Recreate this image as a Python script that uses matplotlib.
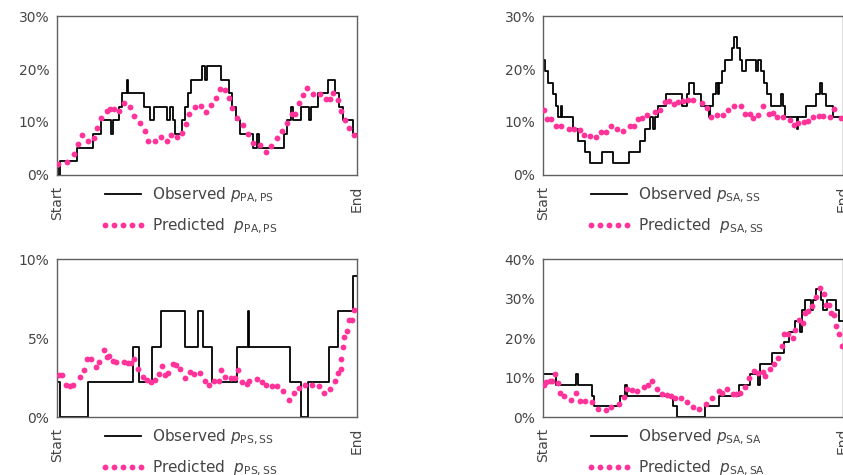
import numpy as np
import matplotlib
matplotlib.use("Agg")
import matplotlib.pyplot as plt
from matplotlib.lines import Line2D
from matplotlib.ticker import FixedLocator, FuncFormatter

plt.rcParams["font.family"] = ["DejaVu Sans"]
plt.rcParams["mathtext.fontset"] = "dejavusans"

# x is position along the period in percent (0 = Start, 100 = End), y in %

# PA -> PS
pa_ps_obs_x = [0, 0.4, 0.9, 6.7, 11.9, 14.6, 18.0, 18.8, 20.7, 21.8, 23.3, 23.8, 29.0, 31.0,
               32.2, 36.8, 37.7, 38.5, 39.2, 41.8, 42.6, 43.5, 44.6, 48.4, 49.2, 50.1, 54.8,
               57.3, 58.4, 59.5, 61.0, 65.4, 66.5, 67.3, 75.6, 76.5, 78.0, 78.7, 81.2, 83.9,
               84.7, 86.9, 90.2, 92.6, 93.9, 95.3, 98.7, 100]
pa_ps_obs_y = [1.3, 0.0, 2.6, 5.1, 7.7, 10.3, 7.7, 10.3, 12.8, 15.4, 17.9, 15.4, 12.8, 10.3,
               12.8, 10.3, 12.8, 10.3, 7.7, 10.3, 12.8, 15.4, 17.9, 20.5, 17.9, 20.5, 17.9,
               15.4, 12.8, 10.3, 7.7, 5.1, 7.7, 5.1, 7.7, 10.3, 12.8, 10.3, 12.8, 10.3,
               12.8, 15.4, 17.9, 15.4, 12.8, 10.3, 7.7, 7.7]
pa_ps_pred_x = [0.4, 3.5, 5.8, 7.1, 8.2, 10.4, 12.2, 13.3, 14.6, 16.6, 17.7, 19.1, 20.7, 22.2,
                24.4, 25.5, 27.7, 29.3, 30.4, 32.6, 34.8, 36.5, 37.9, 39.9, 41.8, 42.9, 44.0,
                45.9, 48.1, 49.8, 51.4, 52.9, 54.3, 55.9, 57.3, 58.4, 59.9, 62.1, 63.6, 65.4,
                67.6, 69.5, 71.2, 73.2, 75.1, 76.5, 78.2, 79.2, 80.8, 82.0, 83.4, 85.4, 87.6,
                89.5, 91.1, 92.0, 93.6, 94.5, 96.0, 97.2, 98.9]
pa_ps_pred_y = [2.1, 2.5, 4.0, 5.8, 7.5, 6.5, 7.0, 8.9, 10.7, 12.1, 12.4, 12.5, 12.1, 13.6,
                12.9, 11.1, 9.9, 8.3, 6.5, 6.4, 7.1, 6.4, 7.5, 7.2, 8.0, 9.7, 11.6,
                12.8, 13.1, 11.8, 13.3, 14.5, 16.2, 16.0, 14.5, 12.6, 10.7, 9.4, 7.7, 6.0,
                5.7, 4.4, 5.5, 7.0, 8.3, 9.9, 11.5, 11.6, 13.5, 15.1, 16.4, 15.2, 15.2,
                14.3, 14.3, 15.4, 14.2, 12.1, 10.4, 8.8, 7.5]

# SA -> SS
sa_ss_obs_x = [0, 0.6, 1.7, 3.3, 4.2, 5.0, 6.1, 6.5, 10.0, 11.7, 14.1, 15.6, 19.8, 23.2, 28.7,
               32.3, 34.0, 35.6, 36.7, 37.2, 38.4, 41.0, 46.2, 47.9, 48.6, 50.3, 52.6, 55.2,
               55.8, 56.6, 57.5, 58.3, 58.8, 59.5, 60.5, 62.9, 63.8, 64.8, 65.6, 66.3, 67.8,
               71.1, 71.6, 72.6, 73.5, 74.5, 76.0, 79.3, 79.9, 80.6, 84.5, 85.1, 87.8, 91.0,
               92.3, 93.1, 94.2, 96.5, 100]
sa_ss_obs_y = [21.7, 19.6, 17.4, 15.2, 13.0, 10.9, 13.0, 10.9, 8.7, 6.5, 4.3, 2.2, 4.3, 2.2, 4.3,
               6.5, 8.7, 10.9, 8.7, 10.9, 13.0, 15.2, 13.0, 15.2, 17.4, 15.2, 13.0, 10.9,
               13.0, 15.2, 17.4, 15.2, 17.4, 19.6, 21.7, 23.9, 26.1, 23.9, 21.7, 19.6, 21.7,
               19.6, 21.7, 19.6, 17.4, 15.2, 13.0, 15.2, 13.0, 10.9, 8.7, 10.9, 13.0, 15.2,
               17.4, 15.2, 13.0, 10.9, 10.9]
sa_ss_pred_x = [0.2, 1.4, 2.6, 4.2, 6.1, 8.7, 10.2, 12.5, 13.7, 15.6, 17.8, 19.5, 20.9, 22.8,
                24.5, 26.7, 29.0, 30.3, 31.7, 32.9, 34.7, 37.3, 39.0, 40.6, 42.1, 43.7, 45.1,
                46.8, 48.4, 50.1, 52.9, 54.6, 55.9, 58.1, 59.9, 61.8, 63.7, 65.9, 67.4, 69.0,
                69.9, 71.5, 73.3, 75.2, 76.5, 78.0, 80.0, 82.2, 83.7, 84.9, 86.9, 88.2, 90.0,
                91.9, 93.3, 95.5, 97.1, 99.3]
sa_ss_pred_y = [12.3, 10.6, 10.6, 9.2, 9.2, 8.7, 8.7, 8.4, 7.6, 7.3, 7.1, 8.1, 8.1, 9.2,
                8.7, 8.3, 9.3, 9.3, 10.6, 10.8, 11.3, 11.9, 12.3, 13.8, 13.9, 13.4, 13.8,
                13.9, 14.1, 14.2, 13.5, 12.7, 10.9, 11.4, 11.4, 12.2, 13.0, 13.0, 11.6, 11.6,
                10.8, 11.4, 13.0, 11.6, 11.7, 10.9, 10.9, 10.3, 9.5, 9.8, 10.0, 10.2, 10.9,
                11.1, 11.1, 10.9, 12.4, 10.8]

# PS -> SS
ps_ss_obs_x = [0, 1.1, 10.4, 25.3, 27.4, 31.7, 34.8, 42.5, 46.9, 48.7, 51.7, 60.0, 63.7, 64.1,
               77.5, 81.2, 83.6, 90.5, 93.5, 98.6, 100]
ps_ss_obs_y = [2.2, 0.0, 2.2, 4.4, 2.2, 4.4, 6.7, 4.4, 6.7, 4.4, 2.2, 4.4, 6.7, 4.4,
               2.2, 0.0, 2.2, 4.4, 6.7, 8.9, 8.9]
ps_ss_pred_x = [0.6, 1.7, 3.0, 4.4, 5.5, 7.6, 9.1, 9.9, 11.5, 13.0, 14.1, 15.5, 16.6, 17.4,
                18.8, 19.6, 22.2, 23.5, 24.6, 25.7, 27.1, 28.5, 30.0, 31.3, 32.6, 34.0, 35.1,
                35.9, 37.1, 38.5, 39.6, 41.0, 42.6, 44.3, 45.7, 47.7, 49.2, 50.7, 52.3, 54.0,
                54.5, 55.9, 57.9, 59.2, 60.3, 61.8, 63.4, 64.0, 66.5, 68.4, 69.8, 71.7, 73.2,
                75.4, 77.3, 78.9, 80.6, 82.8, 85.0, 87.3, 89.1, 90.9, 92.8, 93.7, 94.5, 94.7,
                95.2, 95.8, 96.7, 97.2, 98.3, 99.1]
ps_ss_pred_y = [2.67, 2.63, 2.05, 1.94, 2.03, 2.52, 2.99, 3.65, 3.70, 3.16, 3.48, 4.23, 3.80, 3.87,
                3.55, 3.48, 3.48, 3.44, 3.44, 3.68, 3.06, 2.52, 2.35, 2.20, 2.35, 2.74, 3.21,
                2.63, 2.78, 3.38, 3.27, 3.01, 2.48, 2.88, 2.74, 2.78, 2.26, 2.05, 2.26, 2.31,
                2.95, 2.56, 2.46, 2.46, 2.95, 2.20, 2.09, 2.26, 2.41, 2.20, 2.03, 1.94, 1.94,
                1.62, 1.07, 1.50, 1.84, 2.03, 2.03, 1.94, 1.50, 1.77, 2.26, 2.80, 3.06, 3.70,
                4.44, 5.09, 5.47, 6.15, 6.15, 6.80]

# SA -> SA
sa_sa_obs_x = [0, 4.5, 11.0, 11.7, 16.4, 17.0, 25.6, 27.3, 27.9, 43.3, 44.7, 54.0, 58.5, 65.3,
               68.9, 71.8, 72.3, 76.3, 80.4, 82.0, 84.0, 85.6, 86.2, 87.4, 89.4, 90.0, 91.0,
               92.5, 93.3, 94.6, 97.5, 98.6, 100]
sa_sa_obs_y = [10.8, 8.1, 10.8, 8.1, 5.4, 2.7, 5.4, 8.1, 5.4, 2.7, 0.0, 2.7, 5.4, 8.1,
               10.8, 8.1, 13.5, 16.2, 18.9, 21.6, 24.3, 21.6, 27.0, 29.7, 27.0, 29.7, 32.4,
               29.7, 27.0, 29.7, 27.0, 24.3, 24.3]
sa_sa_pred_x = [0.2, 1.1, 2.2, 3.1, 3.9, 5.0, 5.8, 6.9, 9.5, 11.1, 12.2, 13.9, 16.5, 18.4,
                20.9, 22.5, 25.3, 26.9, 28.1, 29.5, 31.2, 33.6, 35.1, 36.2, 37.9, 39.5, 41.2,
                42.5, 44.0, 45.9, 47.9, 50.1, 52.1, 54.3, 56.2, 58.5, 59.6, 61.2, 63.3, 64.4,
                65.5, 67.4, 68.5, 70.4, 71.8, 73.3, 74.1, 75.5, 77.1, 78.2, 79.6, 80.4, 81.8,
                83.3, 84.1, 85.4, 86.6, 87.4, 88.3, 89.6, 91.1, 92.2, 93.5, 94.4, 95.2, 96.0,
                96.9, 97.8, 98.6, 99.7]
sa_sa_pred_y = [8.2, 8.8, 9.0, 9.2, 10.9, 8.5, 6.0, 5.4, 4.3, 6.0, 4.1, 4.1, 3.7, 2.0,
                1.7, 2.6, 3.2, 5.1, 7.1, 6.8, 6.6, 7.7, 8.1, 9.0, 7.2, 5.8, 5.5,
                5.4, 4.8, 4.8, 3.7, 2.6, 2.0, 3.2, 4.8, 6.5, 6.2, 7.2, 5.8, 5.8,
                6.0, 7.5, 10.0, 11.6, 11.1, 11.5, 10.5, 12.2, 13.3, 15.0, 17.9, 20.9, 20.9,
                20.1, 22.0, 24.5, 23.7, 26.4, 26.9, 28.1, 30.3, 32.6, 31.1, 28.3, 28.3, 26.4,
                25.8, 23.0, 20.9, 18.1]

panels = [
    ("PA,PS", pa_ps_obs_x, pa_ps_obs_y, pa_ps_pred_x, pa_ps_pred_y, 30, [0, 10, 20, 30]),
    ("SA,SS", sa_ss_obs_x, sa_ss_obs_y, sa_ss_pred_x, sa_ss_pred_y, 30, [0, 10, 20, 30]),
    ("PS,SS", ps_ss_obs_x, ps_ss_obs_y, ps_ss_pred_x, ps_ss_pred_y, 10, [0, 5, 10]),
    ("SA,SA", sa_sa_obs_x, sa_sa_obs_y, sa_sa_pred_x, sa_sa_pred_y, 40, [0, 10, 20, 30, 40]),
]

text_color = "#454545"
spine_color = "#606060"
pink = "#ff3399"

fig = plt.figure(figsize=(8.43, 4.75), dpi=100)
positions = [
    [0.0676, 0.6316, 0.356, 0.3347],
    [0.6441, 0.6316, 0.356, 0.3347],
    [0.0676, 0.1221, 0.356, 0.3326],
    [0.6441, 0.1221, 0.356, 0.3326],
]

for pos, (sub, ox, oy, px, py, ymax, yticks) in zip(positions, panels):
    ax = fig.add_axes(pos)
    ax.step(ox, oy, where="post", color="black", linewidth=1.3, zorder=2)
    ax.plot(px, py, linestyle="none", marker="o", markersize=4.2,
            markerfacecolor=pink, markeredgecolor="none", zorder=3)

    ax.set_xlim(0, 100)
    ax.set_ylim(0, ymax)
    ax.yaxis.set_major_locator(FixedLocator(yticks))
    ax.yaxis.set_major_formatter(FuncFormatter(lambda v, _: f"{v:.0f}%"))
    ax.set_xticks([0, 100])
    ax.set_xticklabels(["Start", "End"], rotation=90)
    ax.tick_params(axis="both", length=0, labelsize=10, labelcolor=text_color)
    ax.tick_params(axis="y", pad=5.5)
    ax.tick_params(axis="x", pad=7.5)
    for s in ax.spines.values():
        s.set_color(spine_color)
        s.set_linewidth(1.0)

    handles = [
        Line2D([], [], color="black", linewidth=1.3),
        Line2D([], [], linestyle="none", marker="o", markersize=4.2,
               markerfacecolor=pink, markeredgecolor="none"),
    ]
    labels = [rf"Observed $p_{{\mathrm{{{sub}}}}}$", rf"Predicted  $p_{{\mathrm{{{sub}}}}}$"]
    ax.legend(handles, labels, loc="upper left", bbox_to_anchor=(0.145, -0.065),
              frameon=False, fontsize=11, labelcolor=text_color, numpoints=5,
              handlelength=2.95, handletextpad=0.4, labelspacing=0.8,
              borderpad=0, borderaxespad=0)

fig.savefig("out.png", dpi=100)
